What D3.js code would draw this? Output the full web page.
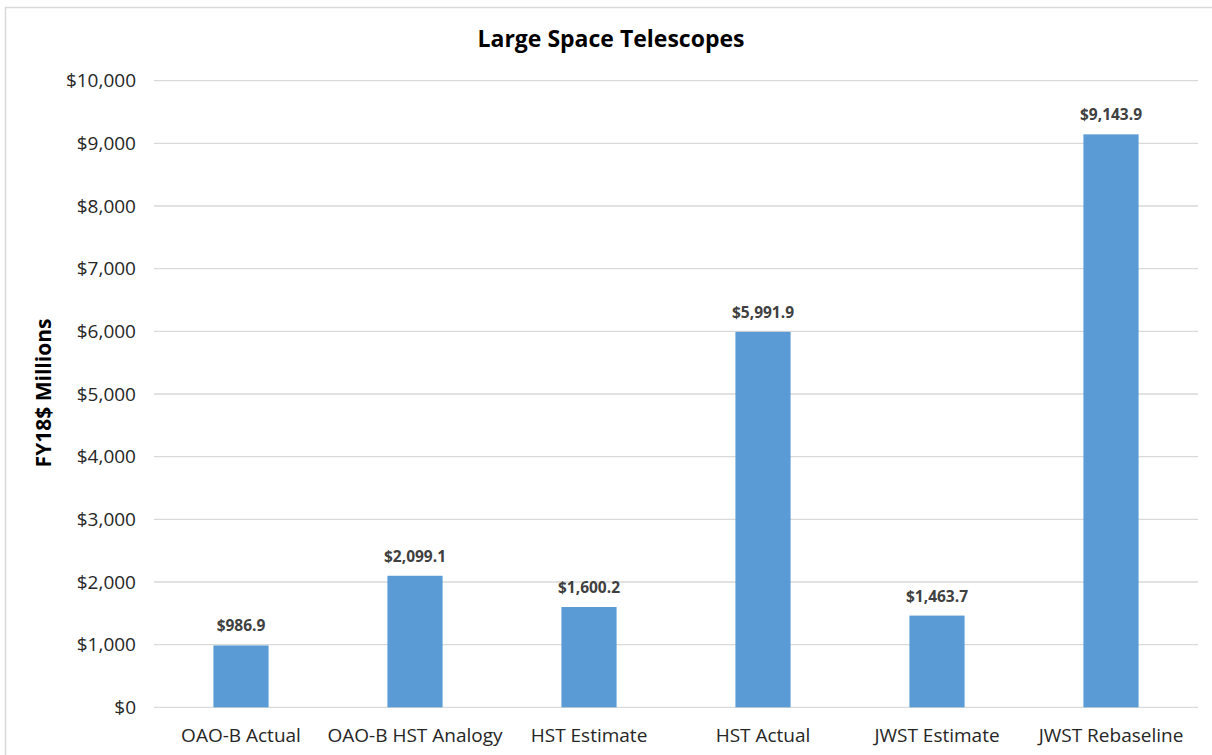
<!DOCTYPE html>
<html><head><meta charset="utf-8">
<script src="https://cdn.jsdelivr.net/npm/d3@7"></script>
<style>body{margin:0;background:#fff;}svg{display:block;}</style>
</head><body>
<svg id="c" width="1212" height="755"></svg>
<script>
const categories = ["OAO-B Actual","OAO-B HST Analogy","HST Estimate","HST Actual","JWST Estimate","JWST Rebaseline"];
const values = [986.9, 2099.1, 1600.2, 5991.9, 1463.7, 9143.9];
const yTicks = [0,1000,2000,3000,4000,5000,6000,7000,8000,9000,10000];
const title = "Large Space Telescopes";
const yLabel = "FY18$ Millions";

const svg = d3.select("#c");
const font = "'Open Sans', Lato, sans-serif";
const pLeft = 154, pRight = 1198, pTop = 80.7, pBottom = 707.3;

// outer border
svg.append("path").attr("d","M5.5,755 L5.5,7.5 L1212,7.5").attr("fill","none").attr("stroke","#d9d9d9").attr("stroke-width",1.5);

const x = d3.scaleBand().domain(categories).range([pLeft,pRight]).paddingInner(0.683).paddingOuter(0.3415);
const y = d3.scaleLinear().domain([0,10000]).range([pBottom,pTop]);

// grid
svg.append("g").selectAll("line").data(yTicks).join("line")
  .attr("x1",pLeft).attr("x2",pRight).attr("y1",d=>y(d)).attr("y2",d=>y(d))
  .attr("stroke","#d9d9d9").attr("stroke-width",1.3);

// y axis labels
const fmt = d3.format(",");
const yAxis = d3.axisLeft(y).tickValues(yTicks).tickSize(0).tickPadding(18).tickFormat(d=>"$"+fmt(d));
const gy = svg.append("g").attr("transform",`translate(${pLeft},0)`).call(yAxis);
gy.select(".domain").remove();
gy.selectAll("text").attr("font-family",font).attr("font-size",19).attr("fill","#262626");

// x axis labels
const xAxis = d3.axisBottom(x).tickSize(0).tickPadding(21);
const gx = svg.append("g").attr("transform",`translate(0,${pBottom})`).call(xAxis);
gx.select(".domain").remove();
gx.selectAll("text").attr("font-family",font).attr("font-size",19).attr("fill","#262626");

// bars
svg.append("g").selectAll("rect").data(values).join("rect")
  .attr("x",(d,i)=>x(categories[i])).attr("width",x.bandwidth())
  .attr("y",d=>y(d)).attr("height",d=>y(0)-y(d)).attr("fill","#5b9bd5");

// data labels
svg.append("g").selectAll("text").data(values).join("text")
  .attr("x",(d,i)=>x(categories[i])+x.bandwidth()/2).attr("y",d=>y(d)-14)
  .attr("text-anchor","middle").attr("font-family",font).attr("font-weight","bold")
  .attr("font-size",15.5).attr("fill","#404040")
  .text(d=>"$"+d3.format(",.1f")(d));

// title
svg.append("text").attr("x",611).attr("y",47).attr("text-anchor","middle")
  .attr("font-family",font).attr("font-weight","bold").attr("font-size",23).attr("fill","#000").text(title);

// y label
svg.append("text").attr("transform","translate(51,393) rotate(-90)").attr("text-anchor","middle")
  .attr("font-family",font).attr("font-weight","bold").attr("font-size",21).attr("fill","#000").text(yLabel);
</script>
</body></html>
